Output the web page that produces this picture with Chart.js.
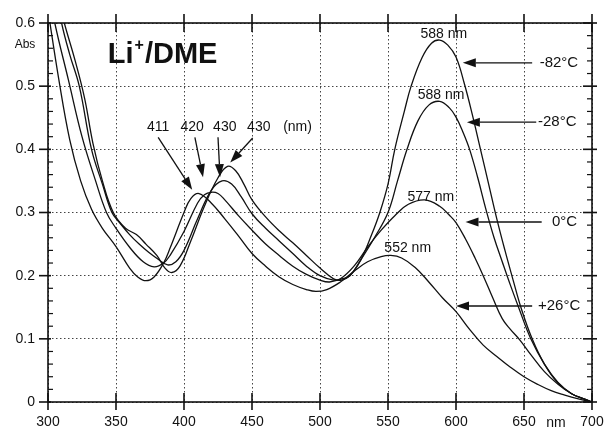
<!DOCTYPE html>
<html>
<head>
<meta charset="utf-8">
<script src="https://cdn.jsdelivr.net/npm/chart.js@4.4.1/dist/chart.umd.min.js"></script>
<style>html,body{margin:0;padding:0;background:#fff}</style>
</head>
<body>
<canvas id="spec" width="606" height="431"></canvas>
<script>
// Absorption spectra, Li+/DME, four temperatures
const wlM82 = [305,312,320,327,333,340,348,357,365,372,380,386,391,397,405,415,425,432,438,444,450,460,470,480,490,500,510,516,522,530,538,544,550,555,562,567,575,582,588,594,600,606,612,618,624,630,636,642,648,656,665,675,685,695,700];
const absM82 = [0.66,0.6,0.54,0.48,0.41,0.35,0.3,0.275,0.265,0.25,0.232,0.212,0.205,0.215,0.255,0.31,0.355,0.373,0.366,0.345,0.32,0.293,0.271,0.252,0.232,0.212,0.195,0.193,0.2,0.225,0.265,0.3,0.345,0.4,0.46,0.5,0.545,0.568,0.573,0.565,0.546,0.505,0.455,0.4,0.345,0.29,0.24,0.193,0.148,0.1,0.06,0.03,0.013,0.004,0];

const wlM28 = [304,310,316,323,332,340,347,353,360,367,374,381,388,394,400,410,420,428,435,442,450,460,470,480,490,500,510,516,522,530,540,550,557,564,572,580,588,595,600,605,610,616,622,628,634,640,646,655,665,675,685,695,700];
const absM28 = [0.67,0.6,0.55,0.5,0.4,0.345,0.3,0.283,0.265,0.25,0.237,0.226,0.217,0.222,0.24,0.29,0.335,0.35,0.345,0.325,0.298,0.275,0.255,0.235,0.215,0.2,0.193,0.195,0.2,0.225,0.26,0.3,0.35,0.4,0.445,0.47,0.476,0.466,0.451,0.428,0.4,0.355,0.305,0.26,0.222,0.185,0.15,0.1,0.06,0.031,0.013,0.004,0];

const wl0 = [300,305,315,325,335,343,350,360,370,378,385,390,400,410,415,420,425,430,440,450,460,470,480,490,500,507,515,525,535,545,555,565,577,588,595,600,607,614,620,627,634,640,647,655,665,675,685,695,700];
const abs0 = [0.66,0.6,0.51,0.42,0.35,0.3,0.275,0.245,0.222,0.214,0.22,0.233,0.27,0.315,0.328,0.332,0.33,0.32,0.295,0.272,0.25,0.232,0.215,0.202,0.193,0.19,0.195,0.215,0.245,0.272,0.295,0.313,0.32,0.31,0.296,0.284,0.258,0.228,0.2,0.165,0.132,0.115,0.098,0.075,0.048,0.028,0.013,0.004,0];

const wlP26 = [300,308,316,324,332,340,350,360,366,372,378,385,390,400,405,411,420,430,440,450,460,470,480,490,497,505,515,525,535,545,552,560,570,580,590,600,610,620,630,640,650,660,670,680,690,700];
const absP26 = [0.62,0.51,0.415,0.35,0.305,0.275,0.246,0.212,0.198,0.192,0.198,0.22,0.245,0.3,0.322,0.33,0.315,0.29,0.263,0.235,0.215,0.198,0.186,0.178,0.175,0.178,0.19,0.207,0.222,0.23,0.232,0.228,0.213,0.19,0.165,0.143,0.115,0.09,0.072,0.055,0.04,0.028,0.018,0.011,0.005,0];

const xTicks = [300,350,400,450,500,550,600,650,700];
const yTicks = [0,0.1,0.2,0.3,0.4,0.5,0.6];

// text labels in data coordinates
const labels = [
  { text: '588 nm', x: 591, y: 0.582 },
  { text: '588 nm', x: 589, y: 0.486 },
  { text: '577 nm', x: 581.5, y: 0.324 },
  { text: '552 nm', x: 564.5, y: 0.244 },
  { text: '411', x: 381, y: 0.435 },
  { text: '420', x: 406, y: 0.435 },
  { text: '430', x: 430, y: 0.435 },
  { text: '430', x: 455, y: 0.435 },
  { text: '(nm)', x: 483.5, y: 0.435 }
];
const tempLabels = [
  { text: '-82\u00b0C', x: 661.5, y: 0.537, ax: 656, bx: 605 },
  { text: '-28\u00b0C', x: 660.3, y: 0.443, ax: 659, bx: 608 },
  { text: '0\u00b0C', x: 670.6, y: 0.285, ax: 663, bx: 607 },
  { text: '+26\u00b0C', x: 660.3, y: 0.152, ax: 656, bx: 600 }
];
const peakArrows = [
  [381, 0.419, 406, 0.336],
  [408, 0.419, 414, 0.356],
  [425, 0.419, 426.5, 0.356],
  [450.5, 0.418, 434, 0.379]
];

function pts(wl, ab) { return wl.map((w, i) => ({ x: w, y: ab[i] })); }

function arrow(ctx, x1, y1, x2, y2) {
  const ang = Math.atan2(y2 - y1, x2 - x1);
  const len = 13, half = 4.5;
  const bx = x2 - len * Math.cos(ang), by = y2 - len * Math.sin(ang);
  ctx.beginPath(); ctx.moveTo(x1, y1); ctx.lineTo(bx, by); ctx.stroke();
  ctx.beginPath();
  ctx.moveTo(x2, y2);
  ctx.lineTo(bx + half * Math.sin(ang), by - half * Math.cos(ang));
  ctx.lineTo(bx - half * Math.sin(ang), by + half * Math.cos(ang));
  ctx.closePath(); ctx.fill();
}

const decor = {
  id: 'decor',
  afterDatasetsDraw(chart) {
    const { ctx, chartArea: a, scales: { x, y } } = chart;
    const seg = (x1, y1, x2, y2) => { ctx.beginPath(); ctx.moveTo(x1, y1); ctx.lineTo(x2, y2); ctx.stroke(); };
    ctx.save();
    ctx.strokeStyle = '#111'; ctx.fillStyle = '#111';
    ctx.lineWidth = 1.6;
    ctx.strokeRect(a.left, a.top, a.right - a.left, a.bottom - a.top);
    xTicks.forEach(v => {
      const px = x.getPixelForValue(v);
      seg(px, a.bottom - 9, px, a.bottom + 8);
      seg(px, a.top - 9, px, a.top + 9);
    });
    yTicks.forEach(v => {
      const py = y.getPixelForValue(v);
      seg(a.left - 9, py, a.left + 3, py);
      seg(a.right - 9, py, a.right + 5, py);
    });
    ctx.lineWidth = 1.2;
    for (let k = 1; k < 30; k++) {
      if (k % 5 === 0) continue;
      const py = y.getPixelForValue(k * 0.02);
      seg(a.left, py, a.left + 5, py);
      seg(a.right - 5, py, a.right, py);
    }

    // title Li+/DME
    ctx.textBaseline = 'middle';
    ctx.textAlign = 'left';
    const big = 'bold 29px "Liberation Sans", Arial, sans-serif';
    let tx = x.getPixelForValue(344), ty = y.getPixelForValue(0.55);
    ctx.font = big;
    ctx.fillText('Li', tx, ty);
    tx += ctx.measureText('Li').width + 1;
    ctx.font = 'bold 16px "Liberation Sans", Arial, sans-serif';
    ctx.fillText('+', tx, ty - 9);
    tx += ctx.measureText('+').width + 1;
    ctx.font = big;
    ctx.fillText('/DME', tx, ty);

    ctx.font = '14px "Liberation Sans", Arial, sans-serif';
    ctx.textAlign = 'center';
    labels.forEach(l => ctx.fillText(l.text, x.getPixelForValue(l.x), y.getPixelForValue(l.y)));

    ctx.lineWidth = 1.3;
    peakArrows.forEach(p => arrow(ctx, x.getPixelForValue(p[0]), y.getPixelForValue(p[1]),
      x.getPixelForValue(p[2]), y.getPixelForValue(p[3])));

    ctx.font = '15px "Liberation Sans", Arial, sans-serif';
    ctx.textAlign = 'left';
    tempLabels.forEach(t => {
      const py = y.getPixelForValue(t.y);
      ctx.fillText(t.text, x.getPixelForValue(t.x), py);
      arrow(ctx, x.getPixelForValue(t.ax), py, x.getPixelForValue(t.bx), py);
    });

    // axis captions
    ctx.font = '12px "Liberation Sans", Arial, sans-serif';
    ctx.textAlign = 'center';
    ctx.fillText('Abs', a.left - 23, y.getPixelForValue(0.566));
    ctx.font = '14px "Liberation Sans", Arial, sans-serif';
    ctx.fillText('nm', x.getPixelForValue(673.5), a.bottom + 21);
    ctx.restore();
  }
};

const lineStyle = { borderColor: '#111', borderWidth: 1.3, pointRadius: 0, fill: false, tension: 0.4 };

new Chart(document.getElementById('spec'), {
  type: 'line',
  data: {
    datasets: [
      Object.assign({ label: '-82\u00b0C', data: pts(wlM82, absM82) }, lineStyle),
      Object.assign({ label: '-28\u00b0C', data: pts(wlM28, absM28) }, lineStyle),
      Object.assign({ label: '0\u00b0C', data: pts(wl0, abs0) }, lineStyle),
      Object.assign({ label: '+26\u00b0C', data: pts(wlP26, absP26) }, lineStyle)
    ]
  },
  options: {
    responsive: false,
    animation: false,
    devicePixelRatio: 1,
    layout: { padding: { left: 0, right: 0, top: 23, bottom: 0 } },
    plugins: { legend: { display: false }, tooltip: { enabled: false } },
    scales: {
      x: {
        type: 'linear', min: 300, max: 700,
        afterFit: s => { s.height = 29; s.paddingLeft = 0; s.paddingRight = 14; },
        afterBuildTicks: s => { s.ticks = xTicks.map(v => ({ value: v })); },
        ticks: { padding: 12, color: '#111', font: { family: '"Liberation Sans", Arial, sans-serif', size: 14 }, maxRotation: 0 },
        grid: { color: '#444', lineWidth: 1, drawTicks: false },
        border: { display: false, dash: [1.5, 2.5] }
      },
      y: {
        min: 0, max: 0.6,
        afterFit: s => { s.width = 48; s.paddingTop = 0; s.paddingBottom = 0; },
        afterBuildTicks: s => { s.ticks = yTicks.map(v => ({ value: v })); },
        ticks: {
          padding: 13, color: '#111', font: { family: '"Liberation Sans", Arial, sans-serif', size: 14 },
          callback: v => v === 0 ? '0' : v.toFixed(1)
        },
        grid: { color: '#444', lineWidth: 1, drawTicks: false },
        border: { display: false, dash: [1.5, 2.5] }
      }
    }
  },
  plugins: [decor]
});
</script>
</body>
</html>
